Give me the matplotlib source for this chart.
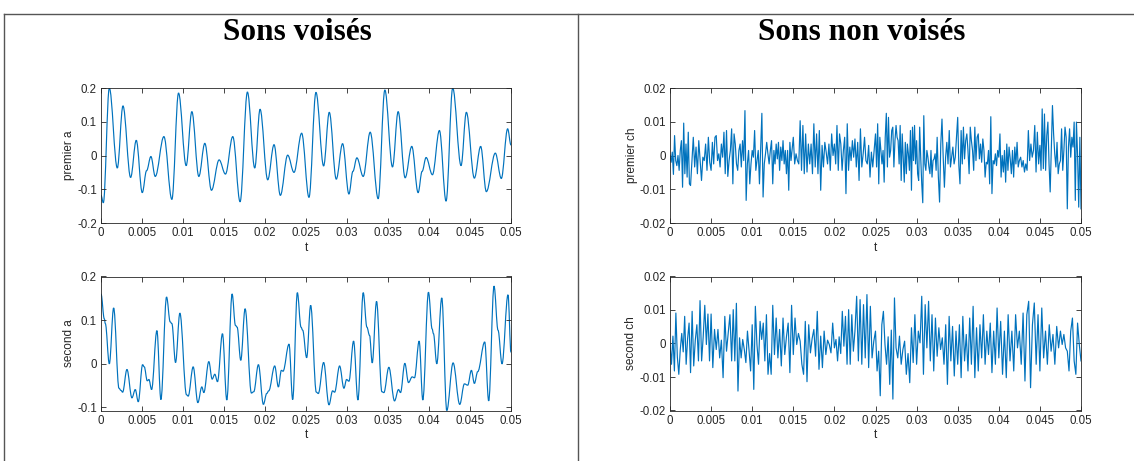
import numpy as np
import matplotlib
matplotlib.use("Agg")
import matplotlib.pyplot as plt
from matplotlib.path import Path
from matplotlib.patches import PathPatch
from matplotlib.lines import Line2D

plt.rcParams['font.family'] = ['Liberation Sans', 'DejaVu Sans']

# ---------------- data ----------------
titles = ["Sons voisés", "Sons non voisés"]
ylabels = ["premier a", "second a", "premier ch", "second ch"]

x_ticks = [0, 0.005, 0.01, 0.015, 0.02, 0.025, 0.03, 0.035, 0.04, 0.045, 0.05]
x_ticklabels = ["0", "0.005", "0.01", "0.015", "0.02", "0.025", "0.03", "0.035", "0.04", "0.045", "0.05"]
y_ticks_pa = [-0.2, -0.1, 0, 0.1, 0.2]
y_ticklabels_pa = ["-0.2", "-0.1", "0", "0.1", "0.2"]
y_ticks_sa = [-0.1, 0, 0.1, 0.2]
y_ticklabels_sa = ["-0.1", "0", "0.1", "0.2"]
y_ticks_ch = [-0.02, -0.01, 0, 0.01, 0.02]
y_ticklabels_ch = ["-0.02", "-0.01", "0", "0.01", "0.02"]

# voiced signals: turning points (time in ms, amplitude)
premier_a_t_ms = [0, 0.284, 1.015, 1.988, 2.678, 3.612, 4.301, 5.032, 5.559, 6.087,
                  6.615, 7.670, 8.644, 9.455, 10.388, 11.078, 11.931, 12.661, 13.473, 14.406,
                  15.177, 16.070, 16.962, 17.855, 18.748, 19.397, 20.331, 21.102, 21.873, 22.766,
                  23.537, 24.470, 25.363, 26.215, 27.149, 27.839, 28.691, 29.462, 30.233, 30.720,
                  31.206, 31.977, 32.829, 33.803, 34.615, 35.548, 36.238, 37.090, 37.902, 38.673,
                  39.160, 39.647, 40.418, 41.270, 42.082, 42.893, 43.908, 44.557, 45.531, 46.302,
                  46.992, 48.088, 48.818, 49.590, 50.0]
premier_a_y = [-0.118, -0.14, 0.2, -0.037, 0.147, -0.065, 0.045, -0.11, -0.045, -0.003,
               -0.062, 0.056, -0.13, 0.185, -0.03, 0.13, -0.062, 0.036, -0.103, -0.013,
               -0.055, 0.056, -0.137, 0.188, -0.037, 0.137, -0.072, 0.032, -0.118, 0.001,
               -0.05, 0.066, -0.124, 0.187, -0.031, 0.128, -0.07, 0.035, -0.114, -0.047,
               -0.007, -0.062, 0.069, -0.128, 0.194, -0.034, 0.13, -0.066, 0.027, -0.11,
               -0.047, -0.006, -0.057, 0.074, -0.135, 0.2, -0.03, 0.128, -0.067, 0.027,
               -0.107, 0.007, -0.068, 0.079, 0.031]

second_a_t_ms = [0.000, 0.406, 0.528, 1.015, 1.542, 2.192, 2.435, 2.638, 3.166, 3.774,
                 4.180, 4.545, 5.073, 5.276, 5.641, 5.844, 6.169, 6.818, 7.305, 7.995,
                 8.441, 8.644, 9.091, 9.618, 10.430, 10.633, 11.242, 11.810, 12.297, 12.540,
                 13.149, 13.555, 13.880, 14.205, 14.813, 15.341, 15.990, 16.396, 16.599, 17.045,
                 17.573, 18.344, 18.628, 19.196, 19.805, 20.211, 20.454, 21.185, 21.631, 21.997,
                 22.199, 22.930, 23.376, 23.945, 24.391, 24.594, 25.081, 25.568, 26.258, 26.501,
                 27.151, 27.800, 28.246, 28.490, 29.099, 29.626, 29.951, 30.235, 30.803, 31.331,
                 31.980, 32.427, 32.751, 33.076, 33.604, 34.253, 34.496, 35.105, 35.795, 36.282,
                 36.526, 37.053, 37.500, 37.946, 38.230, 38.799, 39.245, 39.935, 40.381, 40.543,
                 40.949, 41.558, 42.167, 42.938, 43.750, 44.318, 44.724, 45.170, 45.535, 45.941,
                 46.794, 47.281, 47.930, 48.417, 48.904, 49.635, 50.0]
second_a_y = [0.16, 0.103, 0.092, 0.0, 0.128, -0.056, -0.061, -0.065, -0.013, -0.078,
              -0.059, -0.087, -0.002, -0.007, -0.039, -0.036, -0.059, 0.076, -0.082, 0.153,
              0.096, 0.092, 0.003, 0.116, -0.071, -0.074, -0.007, -0.089, -0.053, -0.066,
              0.005, -0.035, -0.024, -0.041, 0.069, -0.083, 0.16, 0.088, 0.084, 0.008,
              0.126, -0.067, -0.064, -0.002, -0.093, -0.068, -0.062, -0.005, -0.053, -0.015,
              -0.017, 0.045, -0.082, 0.163, 0.084, 0.077, 0.014, 0.134, -0.065, -0.068,
              0.003, -0.094, -0.062, -0.065, -0.005, -0.056, -0.036, -0.04, 0.052, -0.083,
              0.163, 0.084, 0.065, 0.002, 0.143, -0.064, -0.066, -0.008, -0.085, -0.059,
              -0.066, 0.001, -0.043, -0.03, -0.032, 0.052, -0.083, 0.164, 0.08, 0.069,
              0.0, 0.151, -0.107, 0.002, -0.093, -0.046, -0.049, -0.015, -0.045, -0.018,
              0.05, -0.085, 0.178, 0.077, 0.0, 0.158, 0.026]

# unvoiced signals: samples (units of 1e-3), grouped in 2.5 ms blocks
premier_ch_e3 = [
    [0, -2.0, 1.0, -5.6, 5.9, -1.5, -3.0, 0, -4.4, 1.5, 4.4, -9.4, 9.6, -5.4, 3.4, -6.4, 6.9, -8.4],
    [-8.9, -1.5, 5.4, -3.4, 2.5, -5.4, 4.4, -1.5, -7.4, -0.5, -1.5, 3.4, -4.4, 5.4, -2.0],
    [-4.4, 3.9, -2.5, 5.4, 5.9, -1.5, 0.5, -3.4, 3.4, -0.5, 6.9, -5.4, 7.4, -6.2, -1.5, 1.5],
    [7.9, -8.4, 6.4, 3.4, -2.5, -4.4, 1.5, 3.4, -3.4, 4.4, -1.5, 13.3, -13.3, -2.5, 1.5, -8.4, -2.5],
    [1.5, -0.5, 7.4, -4.4, -1.5, 1.5, -8.4, 2.5, 12.5, -12.3, -2.5, 0.5, 3.9, 0.5, -2.5, 1.5, 4.4],
    [-8.4, 1.5, -2.5, 3.4, -1.0, 3.9, -4.4, 2.5, -1.5, 4.4, -2.5, 1.5, -5.4, 1.5, -10.3, 3.9, -1.5, 2.0],
    [5.4, -2.5, 0.5, -1.5, -2.5, 10.3, -4.4, 8.9, -5.4, 6.4, -4.9, 3.4, -2.5, 3.4, -5.4],
    [9.4, -3.4, 6.4, -5.4, 7.4, -10.3, 3.0, -3.4, 3.9, 1.0, -2.5, 3.4, -4.4, 6.4, 0],
    [3.4, -2.5, 8.9, -4.4, 6.4, 3.4, -4.4, 1.5, 5.4, -11.3, 9.4, -4.4, 2.5, -1.5, 4.4, -0.5],
    [4.9, -3.4, 3.9, -7.4, 7.9, -3.4, 0.5, 5.4, -1.5, -2.5, 3.0, -6.4, 1.0, -3.4, 1.5],
    [6.4, -3.4, 9.4, -8.4, 5.4, 1.5, -2.5, 1.5, -7.9, 5.4, 12.5, -3.4, 11.3, -0.5, 1.5, 7.4, 8.4, -3.4, 4.4],
    [8.9, 5.4, 4.4, -2.5, 8.9, -7.4, 6.4, -0.5, -7.9, 3.9, -5.4, 3.4, 0.5, -4.4, 7.4, -10.3, 8.4, -1.5, 8.9, -2.5],
    [4.4, -5.4, -7.4, 8.4, -0.5, -8.4, -14.0, 11.8, -2.5, -4.4, 1.5, -0.5, -3.4, -5.4, 1.5, -6.4, -1.5, -1.0, 0.5, -4.4],
    [5.4, -6.4, -13.8, 3.4, 10.8, -0.5, -9.4, -0.5, 3.9, -2.5, 7.4, -3.4, -0.5, 2.5, -2.5, -0.5, 5.4],
    [11.3, -3.0, -8.4, 7.4, -2.5, 8.4, -1.0, 4.4, 6.4, 1.5, -5.4, 8.4, 4.4, 1.5, -4.4, 8.4, -1.5, 5.4],
    [6.4, -1.0, 3.4, -2.0, 4.9, 1.5, -6.4, -2.0, -2.5, 1.5, -8.4, 11.5, -11.3, -1.5, -2.5, 0.5, -3.0, 1.5],
    [-0.5, 6.4, -6.4, 0, -4.9, 1.5, -7.9, 3.4, -4.4, 2.5, -1.0, -5.4, 1.5, -6.4, 2.5, -2.5, 3.9, -3.4],
    [-1.5, -0.5, -3.4, -1.5, -4.9, -2.5, -4.4, 7.4, -1.5, 3.4, -0.5, 1.5, 8.9, -4.9, 6.9, -2.5],
    [3.0, -4.4, 13.8, -3.9, 12.3, -4.4, 5.9, 9.9, -2.5, -10.8, 1.5, 14.8, 6.4, 0.5, -3.4, 3.9, -5.4, -2.5],
    [-1.5, 7.9, -4.4, 1.5, 8.4, 5.4, -15.8, 2.5, 7.9, -0.5, 5.4, 2.5, 9.9, -13.3, 9.9, 0, -15.3, 5.4, -15.8],
]

second_ch_e3 = [
    [0, -6.2, 2.2, -8.2, 9.1, -4.0, -9.2, -1.8, 3.0, -2.5, 8.1, -6.2, 1.5, 6.1],
    [-8.7, 9.6, -6.7, 1.0, 5.6, -5.2, 12.8, -5.2, 2.0, 11.4, -0.3, 8.8, -5.2],
    [8.8, -7.2, 4.2, -1.8, 4.2, -4.3, 1.0, -10.2, 8.1, -2.3, 3.0, 8.6],
    [-5.2, 10.1, -5.2, 12.0, -14.2, 1.7, -4.3, 1.2, -1.8, -5.7, 3.7, -2.0, -8.2],
    [5.6, -13.7, 11.1, -0.3, -6.2, 6.6, 1.2, 6.1, -5.2, 8.6, -9.2, -3.0, -9.2],
    [11.4, -3.3, 7.6, -4.3, 4.2, -6.7, 7.6, -3.3, 2.0, 6.1, -8.7, 11.4],
    [-3.3, 7.6, -0.3, 3.0, 0.7, -6.2, -9.2, 6.6, -11.4, 5.6, -2.8, 1.5],
    [4.2, -3.8, 9.6, -7.7, 2.2, -7.2, 3.7, -3.3, 1.0, -0.3, -2.8, 6.1],
    [-1.3, 1.2, -5.2, 2.0, -3.0, 9.6, -0.8, 8.1, -6.2, 10.1, -6.2, 8.6, -2.3],
    [3.7, 14.1, -5.2, 13.1, -6.2, 11.6, -4.3, 14.6, -7.2, 11.1, -4.3, 0.7],
    [3.7, -8.2, -2.3, -15.6, 5.6, 9.6, -0.3, -6.2, 2.0, -12.2, 4.0, -16.6, 13.6],
    [-1.3, -4.3, 2.2, -6.2, -1.8, 0.7, -9.2, -3.0, -11.7, 4.7, -5.7, 8.6],
    [-6.2, 3.7, 0.2, 14.1, -9.2, 11.6, -1.3, 12.6, -5.2, 8.6, -8.2, 7.6],
    [-3.8, 4.7, -1.8, 1.7, -6.2, 5.6, -12.2, 8.1, -5.2, 5.1, -9.7, 3.7],
    [-6.2, 5.6, -10.2, 8.1, -5.2, 2.7, -8.2, 7.6, -6.2, 11.1, -10.2, 4.7],
    [-8.2, 5.6, -4.3, 8.6, -6.2, 3.7, -3.3, 6.1, -8.7, 3.7, -6.2, 10.6],
    [-4.3, 6.6, -9.2, 3.7, -10.2, 8.6, -5.2, 3.7, -8.2, 8.6, -1.3],
    [3.7, -6.2, 9.1, -11.2, 8.6, 12.6, -13.2, 5.6, 12.1, -6.2, 8.6],
    [-8.2, 10.6, -4.3, 3.7, -6.2, 5.6, -2.3, 2.7, -6.2, 5.1, -1.3],
    [3.7, -0.3, 2.7, -1.3, -2.3, -8.2, 3.7, 7.6, -5.2, -9.2, 6.1, -0.3, -5.2],
]
block_ms = 2.5

# ---------------- helpers ----------------
BLUE = '#0072BD'
AXC = '#262626'


def turning_point_path(t_ms, y, k=0.3642):
    t = np.asarray(t_ms) / 1000.0
    verts = [(t[0], y[0])]
    codes = [Path.MOVETO]
    for i in range(len(t) - 1):
        dt = t[i + 1] - t[i]
        verts += [(t[i] + k * dt, y[i]), (t[i + 1] - k * dt, y[i + 1]), (t[i + 1], y[i + 1])]
        codes += [Path.CURVE4] * 3
    return Path(verts, codes)


def block_series(blocks):
    ts, vs = [], []
    nb = len(blocks)
    for k, b in enumerate(blocks):
        last = (k == nb - 1)
        tt = np.linspace(k * block_ms, (k + 1) * block_ms, len(b), endpoint=last)
        ts.append(tt)
        vs.append(np.asarray(b, dtype=float))
    return np.concatenate(ts) / 1000.0, np.concatenate(vs) * 1e-3


def style(ax, ylabel, yticks, yticklabels, ylim):
    ax.set_xlim(0, 0.05)
    ax.set_ylim(*ylim)
    ax.set_xticks(x_ticks)
    ax.set_xticklabels(x_ticklabels)
    ax.set_yticks(yticks)
    ax.set_yticklabels(yticklabels)
    ax.tick_params(direction='in', top=True, right=True, length=3.5, width=0.6,
                   labelsize=8.3, colors=AXC, pad=3)
    for s in ax.spines.values():
        s.set_color(AXC)
        s.set_linewidth(0.6)
    ax.set_xlabel('t', fontsize=8.5, color=AXC, labelpad=2)
    ax.set_ylabel(ylabel, fontsize=8.5, color=AXC, labelpad=1.5)


# ---------------- figure ----------------
W, H = 1134, 461
fig = plt.figure(figsize=(W / 100, H / 100), dpi=100)


def rect(x0, x1, ytop, ybot):
    return [x0 / W, 1 - ybot / H, (x1 - x0) / W, (ybot - ytop) / H]


ax_pa = fig.add_axes(rect(101, 511, 88, 223))
ax_sa = fig.add_axes(rect(101, 511, 276.5, 410.5))
ax_pc = fig.add_axes(rect(670, 1081, 88, 223))
ax_sc = fig.add_axes(rect(670, 1081, 276.5, 410.5))

ax_pa.add_patch(PathPatch(turning_point_path(premier_a_t_ms, premier_a_y), fill=False,
                          edgecolor=BLUE, lw=0.85))
style(ax_pa, ylabels[0], y_ticks_pa, y_ticklabels_pa, (-0.2, 0.2))

ax_sa.add_patch(PathPatch(turning_point_path(second_a_t_ms, second_a_y), fill=False,
                          edgecolor=BLUE, lw=0.85))
style(ax_sa, ylabels[1], y_ticks_sa, y_ticklabels_sa, (-0.107, 0.2))

t_pc, v_pc = block_series(premier_ch_e3)
ax_pc.plot(t_pc, v_pc, color=BLUE, lw=0.85)
style(ax_pc, ylabels[2], y_ticks_ch, y_ticklabels_ch, (-0.02, 0.02))

t_sc, v_sc = block_series(second_ch_e3)
ax_sc.plot(t_sc, v_sc, color=BLUE, lw=0.85)
style(ax_sc, ylabels[3], y_ticks_ch, y_ticklabels_ch, (-0.02, 0.02))

# table frame
FC = '#555555'
fig.add_artist(Line2D([4 / W, 1.0], [1 - 14 / H, 1 - 14 / H], transform=fig.transFigure, color=FC, lw=1.0))
fig.add_artist(Line2D([4 / W, 4 / W], [0, 1 - 14 / H], transform=fig.transFigure, color=FC, lw=1.0))
fig.add_artist(Line2D([578 / W, 578 / W], [0, 1 - 14 / H], transform=fig.transFigure, color=FC, lw=1.0))

fig.text(297 / W, 1 - 32 / H, titles[0], ha='center', va='center', fontsize=22.5,
         fontweight='bold', family=['Liberation Serif', 'DejaVu Serif'])
fig.text(862 / W, 1 - 32 / H, titles[1], ha='center', va='center', fontsize=22.5,
         fontweight='bold', family=['Liberation Serif', 'DejaVu Serif'])

fig.savefig('out.png', dpi=100)
